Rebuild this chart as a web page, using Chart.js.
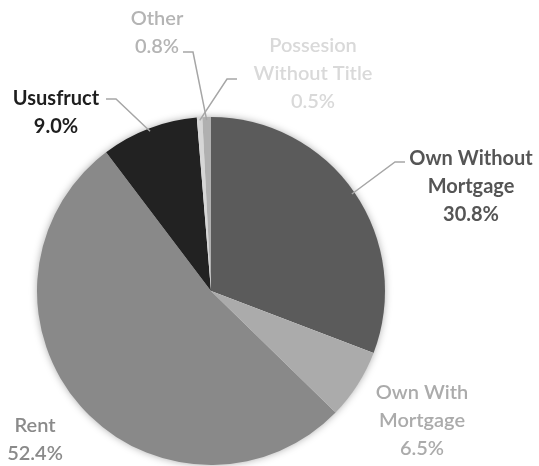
<!DOCTYPE html>
<html>
<head>
<meta charset="utf-8">
<script src="https://cdn.jsdelivr.net/npm/chart.js@4.4.1/dist/chart.umd.min.js"></script>
<style>
  html, body { margin: 0; padding: 0; background: #fff; }
  #wrap { width: 539px; height: 466px; position: relative; }
</style>
</head>
<body>
<div id="wrap"><canvas id="pie"></canvas></div>
<script>
const categories = ['Own Without Mortgage', 'Own With Mortgage', 'Rent', 'Ususfruct', 'Possesion Without Title', 'Other'];
const shares = [30.8, 6.5, 52.4, 9.0, 0.5, 0.8];
const sliceColors = ['#5b5b5b', '#ababab', '#898989', '#222222', '#d6d6d6', '#b0b0b0'];
const labelLines = [['Own Without', 'Mortgage'], ['Own With', 'Mortgage'], ['Rent'], ['Ususfruct'], ['Possesion', 'Without Title'], ['Other']];
const labelColors = ['#555555', '#ababab', '#8a8a8a', '#1e1e1e', '#d9d9d9', '#b4b4b4'];
const labelBold = [true, false, false, true, false, false];

// label block placement: centre x, first baseline y, leader line anchor [x, y, side]
const labelPos = [
  { x: 471, y: 165, lead: [405, 162, 'left'] },
  { x: 422, y: 399 },
  { x: 35, y: 432 },
  { x: 56, y: 105, lead: [106, 99, 'right'] },
  { x: 313, y: 52, lead: [237, 79, 'left'] },
  { x: 157, y: 25, lead: [183, 52, 'right'] }
];

const shadowPlugin = {
  id: 'shadow',
  beforeDatasetsDraw(chart) {
    const arc = chart.getDatasetMeta(0).data[0];
    if (!arc) return;
    const ctx = chart.ctx;
    ctx.save();
    ctx.shadowColor = 'rgba(0,0,0,0.4)';
    ctx.shadowBlur = 8;
    ctx.fillStyle = '#ffffff';
    ctx.beginPath();
    ctx.arc(arc.x, arc.y, arc.outerRadius - 1, 0, Math.PI * 2);
    ctx.fill();
    ctx.restore();
  }
};

const labelPlugin = {
  id: 'sliceLabels',
  afterDatasetsDraw(chart) {
    const ctx = chart.ctx;
    const arcs = chart.getDatasetMeta(0).data;
    ctx.save();
    arcs.forEach((arc, i) => {
      const p = labelPos[i];
      const lines = labelLines[i].concat([shares[i].toFixed(1) + '%']);
      ctx.fillStyle = labelColors[i];
      ctx.font = (labelBold[i] ? 'bold ' : '600 ') + '20px Lato';
      ctx.textAlign = 'center';
      ctx.textBaseline = 'alphabetic';
      lines.forEach((t, k) => ctx.fillText(t, p.x, p.y + k * 28));
      if (p.lead) {
        const mid = (arc.startAngle + arc.endAngle) / 2;
        const ex = arc.x + Math.cos(mid) * (arc.outerRadius - 3);
        const ey = arc.y + Math.sin(mid) * (arc.outerRadius - 3);
        const [lx, ly, side] = p.lead;
        const kx = side === 'left' ? lx - 10 : lx + 10;
        ctx.strokeStyle = '#a6a6a6';
        ctx.lineWidth = 1.5;
        ctx.beginPath();
        ctx.moveTo(lx, ly);
        ctx.lineTo(kx, ly);
        ctx.lineTo(ex, ey);
        ctx.stroke();
      }
    });
    ctx.restore();
  }
};

new Chart(document.getElementById('pie'), {
  type: 'pie',
  data: {
    labels: categories,
    datasets: [{
      data: shares,
      backgroundColor: sliceColors,
      borderWidth: 0
    }]
  },
  options: {
    responsive: true,
    maintainAspectRatio: false,
    animation: false,
    layout: { padding: { left: 37, right: 154, top: 117, bottom: 1 } },
    plugins: {
      legend: { display: false },
      tooltip: { enabled: false }
    }
  },
  plugins: [shadowPlugin, labelPlugin]
});
</script>
</body>
</html>
